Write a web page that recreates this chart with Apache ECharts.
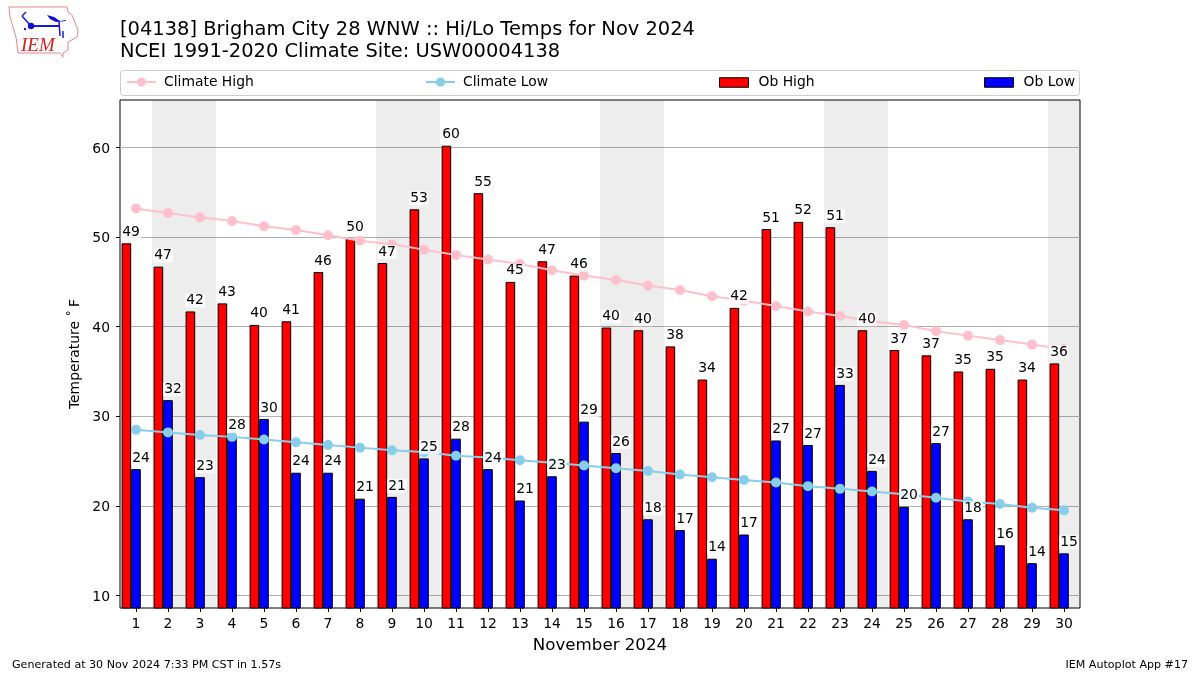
<!DOCTYPE html>
<html>
<head>
<meta charset="utf-8">
<style>html,body{margin:0;padding:0;background:#fff}#c{width:1200px;height:675px}</style>
<script src="https://cdn.jsdelivr.net/npm/echarts@6/dist/echarts.min.js"></script>
</head>
<body>
<div id="c"></div>
<script>
const days = ['1','2','3','4','5','6','7','8','9','10','11','12','13','14','15','16','17','18','19','20','21','22','23','24','25','26','27','28','29','30'];
const obHigh = [49.3,46.7,41.7,42.6,40.2,40.6,46.1,49.8,47.1,53.1,60.2,54.9,45.0,47.3,45.7,39.9,39.6,37.8,34.1,42.1,50.9,51.7,51.1,39.6,37.4,36.8,35.0,35.3,34.1,35.9];
const obLow = [24.1,31.8,23.2,27.7,29.7,23.7,23.7,20.8,21.0,25.3,27.5,24.1,20.6,23.3,29.4,25.9,18.5,17.3,14.1,16.8,27.3,26.8,33.5,23.9,19.9,27.0,18.5,15.6,13.6,14.7];
const highLabels = [49,47,42,43,40,41,46,50,47,53,60,55,45,47,46,40,40,38,34,42,51,52,51,40,37,37,35,35,34,36];
const lowLabels = [24,32,23,28,30,24,24,21,21,25,28,24,21,23,29,26,18,17,14,17,27,27,33,24,20,27,18,16,14,15];
const climateHigh = [53.2,52.7,52.2,51.8,51.2,50.8,50.2,49.6,49.2,48.6,48.0,47.5,47.0,46.3,45.7,45.2,44.6,44.1,43.4,42.9,42.3,41.7,41.2,40.6,40.2,39.5,39.0,38.5,38.0,37.5];
const climateLow = [28.5,28.2,27.9,27.7,27.4,27.1,26.8,26.5,26.2,26.0,25.6,25.4,25.1,24.8,24.5,24.2,23.9,23.5,23.2,22.9,22.6,22.2,21.9,21.6,21.3,20.9,20.5,20.2,19.8,19.5];
const weekendSpans = [[1.5,3.5],[8.5,10.5],[15.5,17.5],[22.5,24.5],[29.5,30.5]];
const yTicks = [10,20,30,40,50,60];

const FONT = 'DejaVu Sans';
const chart = echarts.init(document.getElementById('c'), null, {renderer:'canvas'});

function labelSeries(name, values, labels, dx, dy){
  return {
    name, type:'scatter', z:10, symbolSize:0, silent:true,
    xAxisIndex:0, yAxisIndex:0,
    itemStyle:{opacity:1},
    data: values,
    label:{
      show:true, position:'top', distance:0, offset:[dx,dy], opacity:1,
      formatter:p=>String(labels[p.dataIndex]),
      color:'#000', fontFamily:FONT, fontSize:13.9, lineHeight:14,
      backgroundColor:'rgba(255,255,255,0.8)', padding:[0,1,0,1]
    }
  };
}
function lineLegend(name,left){
  return {
    data:[name], left, top:75, padding:0, itemWidth:29, itemHeight:11.25, selectedMode:false,
    textStyle:{fontFamily:FONT,fontSize:13.9,color:'#000',padding:[0,0,0,3]}
  };
}
function barLegend(name,left){
  return {
    data:[name], left, top:75.5, padding:0, itemWidth:29, itemHeight:9.5, selectedMode:false,
    icon:'rect',
    itemStyle:{borderWidth:1,borderColor:'#000'},
    textStyle:{fontFamily:FONT,fontSize:13.9,color:'#000',padding:[0,0,0,5]}
  };
}

chart.setOption({
  animation:false,
  backgroundColor:'#fff',
  title:[
    {text:'[04138] Brigham City 28 WNW :: Hi/Lo Temps for Nov 2024\nNCEI 1991-2020 Climate Site: USW00004138',
     left:120, top:19, padding:0,
     textStyle:{fontFamily:FONT,fontSize:19.45,fontWeight:'normal',color:'#000',lineHeight:22}},
    {text:'Generated at 30 Nov 2024 7:33 PM CST in 1.57s', left:12, top:660, padding:0,
     textStyle:{fontFamily:FONT,fontSize:11.1,fontWeight:'normal',color:'#000'}},
    {text:'IEM Autoplot App #17', right:12, top:660, padding:0,
     textStyle:{fontFamily:FONT,fontSize:11.1,fontWeight:'normal',color:'#000'}}
  ],
  legend:[lineLegend('Climate High',126),lineLegend('Climate Low',425),barLegend('Ob High',719),barLegend('Ob Low',984)],
  grid:{left:120,right:120,top:100,bottom:67,show:true,borderColor:'#000',borderWidth:1,backgroundColor:'transparent',containLabel:false},
  xAxis:[
    {type:'category',data:days,boundaryGap:true,
     name:'November 2024',nameLocation:'middle',nameGap:29,
     nameTextStyle:{fontFamily:FONT,fontSize:16.67,color:'#000'},
     axisLine:{show:false},
     axisTick:{show:true,alignWithLabel:true,length:4,lineStyle:{color:'#000'}},
     axisLabel:{interval:0,fontFamily:FONT,fontSize:13.9,color:'#000',margin:9},
     splitLine:{show:false}},
    {type:'value',min:0.5,max:30.5,show:false}
  ],
  yAxis:{type:'value',min:8.6,max:65.3,
    name:'Temperature \u02DA\u2009F',nameLocation:'middle',nameGap:37.5,nameRotate:90,nameMoveOverlap:false,
    nameTextStyle:{fontFamily:FONT,fontSize:13.9,color:'#000'},
    axisLine:{show:false},
    axisTick:{show:true,length:4,lineStyle:{color:'#000'},customValues:yTicks},
    axisLabel:{fontFamily:FONT,fontSize:13.9,color:'#000',margin:10,verticalAlign:'top',lineHeight:3,customValues:yTicks},
    splitLine:{show:true,lineStyle:{color:'#b0b0b0',width:1}}
  },
  series:[
    {name:'Weekend',type:'custom',xAxisIndex:1,yAxisIndex:0,z:1,silent:true,
     data:weekendSpans,
     renderItem:(params,api)=>{
       const a=api.coord([api.value(0),65.3]), b=api.coord([api.value(1),8.6]);
       return {type:'rect',shape:{x:a[0],y:a[1],width:b[0]-a[0],height:b[1]-a[1]},
               style:{fill:'rgba(0,0,0,0.07)'}};
     }},
    {name:'Ob High',type:'bar',z:3,data:obHigh,barWidth:9.6,barGap:0,
     itemStyle:{color:'#ff0000',borderColor:'#000',borderWidth:1}},
    {name:'Ob Low',type:'bar',z:3,data:obLow,barWidth:9.6,barGap:0,
     itemStyle:{color:'#0000ff',borderColor:'#000',borderWidth:1}},
    {name:'Spacer',type:'bar',z:3,data:[],barWidth:9.6,barGap:0},
    {name:'Climate High',type:'line',z:5,data:climateHigh,symbol:'circle',symbolSize:10,showAllSymbol:true,
     lineStyle:{color:'#ffc0cb',width:2},itemStyle:{color:'#ffc0cb'}},
    {name:'Climate Low',type:'line',z:5,data:climateLow,symbol:'circle',symbolSize:10,showAllSymbol:true,
     lineStyle:{color:'#87ceeb',width:2},itemStyle:{color:'#87ceeb'}},
    labelSeries('High labels',obHigh,highLabels,-5,-4),
    labelSeries('Low labels',obLow,lowLabels,5,-4)
  ],
  graphic:[
    {type:'rect',z:-1,shape:{x:120.5,y:70.5,width:959,height:25,r:3},style:{fill:'#fff',stroke:'#cccccc',lineWidth:1}},
    {type:'polygon',shape:{points:[[9,7],[67,7],[68,12],[72,15],[78,30],[77,37],[68,42],[68,50],[63,53],[63,57],[60,53],[18,53],[16,37],[10,17]]},
     style:{fill:'#fff',stroke:'#e08a8a',lineWidth:1}},
    {type:'text',left:21,top:36,style:{text:'IEM',fill:'#d82020',font:'italic 19px "Liberation Serif"'}},
    {type:'line',shape:{x1:31,y1:26,x2:60,y2:26},style:{stroke:'#1818d8',lineWidth:2}},
    {type:'line',shape:{x1:31,y1:26,x2:22,y2:16},style:{stroke:'#1818d8',lineWidth:1.5}},
    {type:'line',shape:{x1:22,y1:16,x2:26,y2:12},style:{stroke:'#1818d8',lineWidth:1.5}},
    {type:'circle',shape:{cx:31,cy:26,r:3.2},style:{fill:'#1010d0'}},
    {type:'polygon',shape:{points:[[47,15],[54,17],[60,21],[66,20],[66,21],[56,22],[50,19]]},style:{fill:'#1010d0'}},
    {type:'line',shape:{x1:59,y1:21,x2:60,y2:36},style:{stroke:'#1818d8',lineWidth:1.5}},
    {type:'line',shape:{x1:63,y1:31,x2:63,y2:38},style:{stroke:'#1818d8',lineWidth:1.5}},
    {type:'circle',shape:{cx:25,cy:29,r:1.2},style:{fill:'#1818d8'}}
  ]
});
</script>
</body>
</html>
